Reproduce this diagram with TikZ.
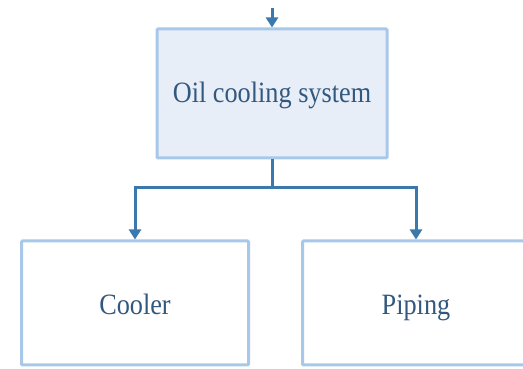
\documentclass[tikz,border=0pt]{standalone}
\usepackage{fontspec}
\setmainfont{Liberation Serif}
\usetikzlibrary{arrows.meta}
\definecolor{boxline}{HTML}{A8C8EA}
\definecolor{boxfill}{HTML}{E8EEF8}
\definecolor{arrowc}{HTML}{3A78AE}
\definecolor{textc}{HTML}{33587E}
\tikzset{
  unitbox/.style={draw=boxline, line width=3pt, rounded corners=1pt, text=textc,
    font=\fontsize{29.5}{34}\selectfont, inner sep=0pt, text depth=0pt},
  conn/.style={draw=arrowc, line width=3pt, -{Triangle[width=12pt,length=10pt]}},
}
\newcommand{\narrowtext}[1]{\scalebox{0.89}[1]{#1}}
\begin{document}
\begin{tikzpicture}[x=1pt,y=1pt]
\useasboundingbox (0,0) rectangle (523,369);
\clip (0,0) rectangle (523,369);
\node[unitbox, fill=boxfill, minimum width=230pt, minimum height=129pt, text height=19pt] (top) at (272,275.5) {\narrowtext{Oil cooling system}};
\node[unitbox, fill=white, minimum width=227pt, minimum height=124pt, text height=24pt] (cooler) at (135,66) {\narrowtext{Cooler}};
\node[unitbox, fill=white, minimum width=227pt, minimum height=124pt, text height=24pt] (piping) at (416,66) {\narrowtext{Piping}};
\coordinate (in) at (272,361);
\draw[conn] (in) -- (top.north);
\coordinate (split) at ([yshift=-28pt]top.south);
\draw[conn] (top.south) -- (split) -| (cooler.north);
\draw[conn] (split) -| (piping.north);
\end{tikzpicture}
\end{document}
